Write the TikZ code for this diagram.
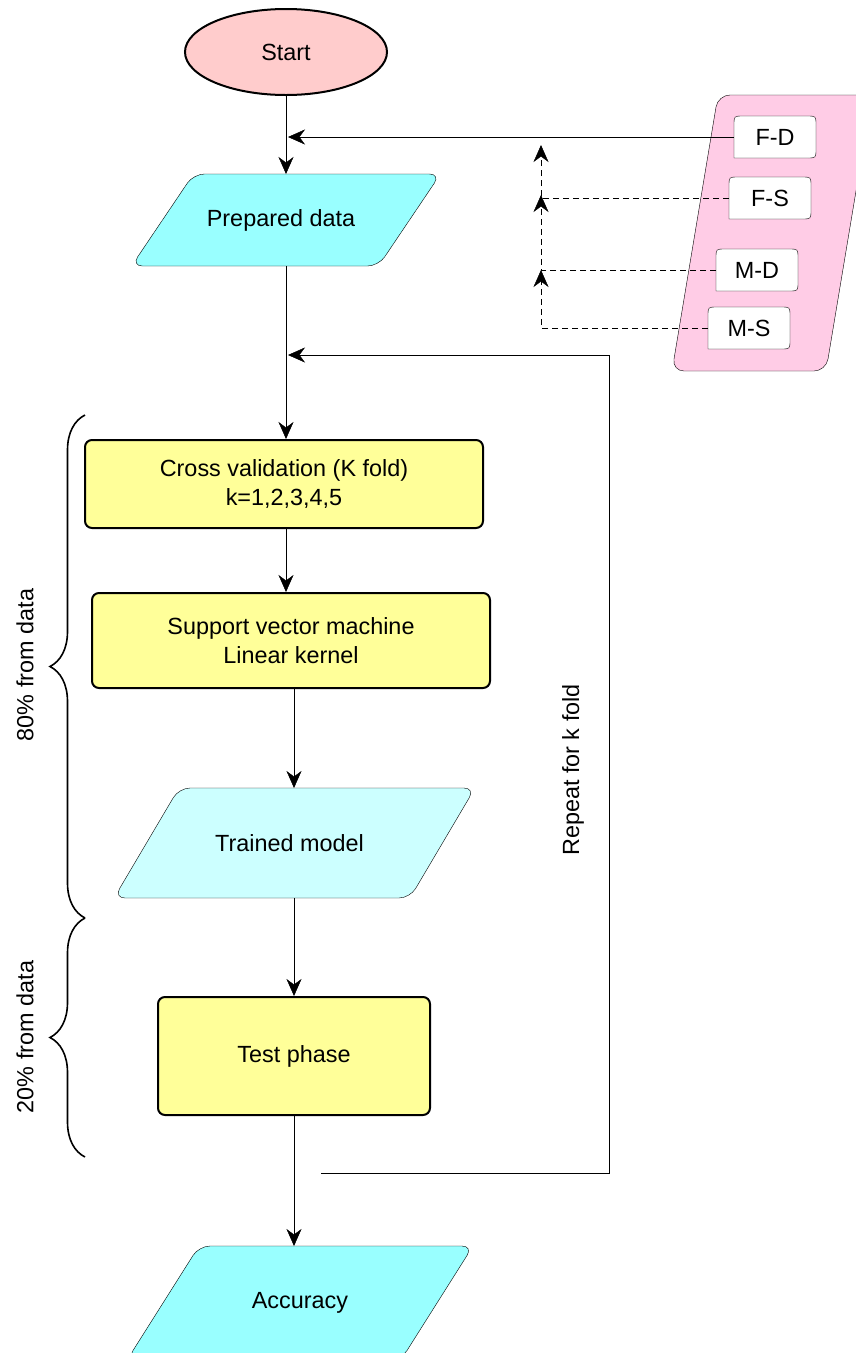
\documentclass[tikz,border=0pt]{standalone}
\usepackage{fontspec}
\setmainfont{Liberation Sans}
\usetikzlibrary{arrows.meta,decorations.pathreplacing,backgrounds,calc,shapes.geometric}

\definecolor{startfill}{RGB}{255,204,204}
\definecolor{datafill}{RGB}{153,255,255}
\definecolor{modelfill}{RGB}{204,255,255}
\definecolor{procfill}{RGB}{255,255,153}
\definecolor{groupfill}{RGB}{255,204,230}

% parallelogram outline drawn around a named node
\newcommand\parashape[3]{%
  \draw[fill=#3, rounded corners=11pt]
    ([xshift=#2]#1.north west) -- (#1.north east) --
    ([xshift=-#2]#1.south east) -- (#1.south west) -- cycle;}

% card with a square lower-left corner
\newcommand\tagshape[1]{%
  \draw[fill=white] (#1.south west) -- ([yshift=-9pt]#1.north west)
    .. controls (#1.north west) .. ([xshift=9pt]#1.north west)
    -- ([xshift=-9pt]#1.north east)
    .. controls (#1.north east) .. ([yshift=-9pt]#1.north east)
    -- ([yshift=9pt]#1.south east)
    .. controls (#1.south east) .. ([xshift=-9pt]#1.south east) -- cycle;}

\begin{document}
\begin{tikzpicture}[x=1pt, y=-1pt,
  font=\fontsize{23.4}{29}\selectfont,
  line width=2pt,
  >={Stealth[length=17pt,width=15pt,inset=5.5pt]},
  procbox/.style={draw, fill=procfill, rounded corners=7pt, align=center,
    inner sep=0pt},
  paranode/.style={inner sep=0pt, align=center},
  tagnode/.style={inner sep=0pt, minimum width=80pt, minimum height=40pt},
  dashline/.style={dash pattern=on 6pt off 4pt},
  bracestyle/.style={decorate, decoration={brace, amplitude=35pt}, line width=1.6pt}]

\useasboundingbox (0,0) rectangle (856,1353);

% main column
\node[draw, fill=startfill, ellipse, minimum width=202pt, minimum height=86pt,
  inner sep=0pt] (Start) at (286,52) {Start};
\node[paranode, minimum width=307pt, minimum height=90pt] (PD) at (286,220)
  {Prepared data\hspace*{10pt}};
\node[procbox, minimum width=398pt, minimum height=88pt] (CV) at (284,484)
  {Cross validation (K fold)\\k=1,2,3,4,5};
\node[procbox, minimum width=398pt, minimum height=95pt] (SVM) at (291,640.5)
  {Support vector machine\\Linear kernel};
\node[paranode, minimum width=359pt, minimum height=108pt] (TM) at (294.5,843)
  {Trained model\hspace*{10pt}};
\node[procbox, minimum width=272pt, minimum height=118pt] (TP) at (294,1056) {Test phase};
\node[paranode, minimum width=344pt, minimum height=112pt] (AC) at (300,1303) {Accuracy};

% feature group
\node[tagnode] (FD) at (775,137) {F-D};
\node[tagnode] (FS) at (770,198) {F-S};
\node[tagnode] (MD) at (757,270) {M-D};
\node[tagnode] (MS) at (749,328) {M-S};

\begin{pgfonlayer}{background}
  \draw[fill=groupfill, rounded corners=12pt]
    (718,95) -- (872,95) -- (826,371) -- (672,371) -- cycle;
  \parashape{PD}{62pt}{datafill}
  \parashape{TM}{65pt}{modelfill}
  \parashape{AC}{72pt}{datafill}
  \tagshape{FD}
  \tagshape{FS}
  \tagshape{MD}
  \tagshape{MS}
\end{pgfonlayer}

% flow connectors
\draw[->] (Start.south) -- (Start.south |- PD.north);
\draw[->] (Start.south |- PD.south) -- (Start.south |- CV.north);
\draw[->] (Start.south |- CV.south) -- (Start.south |- SVM.north);
\draw[->] (TP.north |- SVM.south) -- (TP.north |- TM.north);
\draw[->] (TP.north |- TM.south) -- (TP.north);
\draw[->] (TP.south) -- (TP.south |- AC.north);

% repeat loop
\coordinate (loopstart) at (321,1173);
\coordinate (loopjoin) at (288,355);
\draw[->] (loopstart) -- (609,1173) -- (609,355) -- (loopjoin);
\node[rotate=90] (repeat) at (573,770) {Repeat for k fold};

% inputs from the feature group
\coordinate (fdjoin) at (288,137);
\draw[->] (FD.west) -- (fdjoin);
\coordinate (tipFS) at (541,145);
\coordinate (tipMD) at (541,195);
\coordinate (tipMS) at (541,270);
\draw[->, dashline] (FS.west) -| (tipFS);
\draw[->, dashline] (MD.west) -| (tipMD);
\draw[->, dashline] (MS.west) -| (tipMS);

% data split braces
\coordinate (b1top) at (85,415);
\coordinate (bmid) at (85,918);
\coordinate (b2bot) at (85,1157);
\draw[bracestyle] (bmid) -- (b1top);
\draw[bracestyle] (b2bot) -- (bmid);
\node[rotate=90] (train) at (25,665) {80\% from data};
\node[rotate=90] (test) at (25,1037) {20\% from data};

\end{tikzpicture}
\end{document}
